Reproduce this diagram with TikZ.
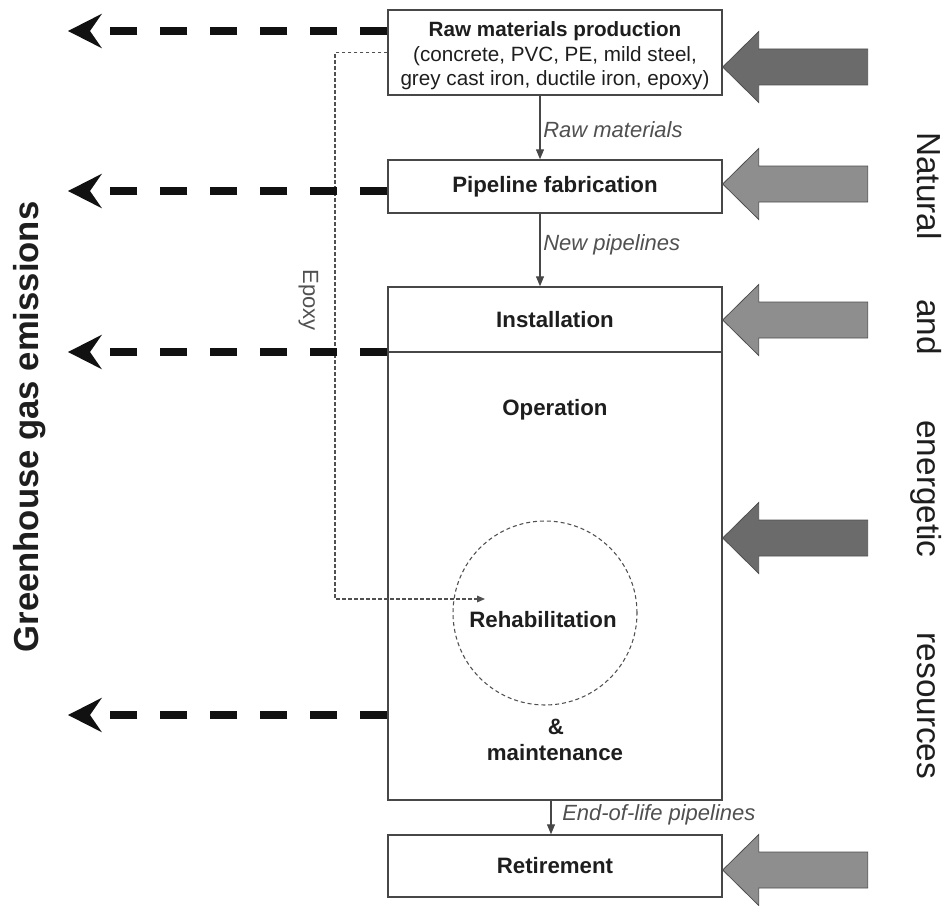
\documentclass[tikz,border=0pt]{standalone}
\usepackage{fontspec}
\setmainfont{Liberation Sans}
\usetikzlibrary{arrows.meta,calc}
\definecolor{boxline}{HTML}{474747}
\definecolor{txt}{HTML}{1E1E1E}
\definecolor{lbl}{HTML}{505050}
\definecolor{arrdark}{HTML}{6B6B6B}
\definecolor{arrlight}{HTML}{8E8E8E}
\definecolor{arredge}{HTML}{4F4F4F}
\definecolor{ghgcol}{HTML}{111111}
\newcommand{\myinarrow}[2]{%
  \filldraw[fill=#2, draw=arredge, line width=0.6pt, line join=miter]
    (#1) -- ++(36,-35.5) -- ++(0,17.5) -- ++(109,0) -- ++(0,36)
    -- ++(-109,0) -- ++(0,17.5) -- cycle;}
\begin{document}
\begin{tikzpicture}[x=0.75pt,y=-0.75pt,
  stagebox/.style={draw=boxline, line width=1.1pt, inner sep=0pt, text=txt,
    minimum width=250.5pt, font=\fontsize{16.7}{20}\selectfont\bfseries},
  lab/.style={font=\fontsize{16.7}{20}\selectfont\bfseries, text=txt, inner sep=0pt},
  flowlbl/.style={font=\fontsize{16.5}{20}\selectfont\itshape, text=lbl, anchor=west, inner sep=0pt},
  flow/.style={draw=boxline, line width=0.9pt, -{Triangle[length=7.5pt,width=6pt]}},
  ghg/.style={draw=ghgcol, line width=5.8pt, dash pattern=on 20.25pt off 17.25pt,
    -{Stealth[length=25.5pt,width=26pt,inset=9pt,line width'=0pt]}},
  epoxyline/.style={draw=lbl, line width=0.8pt, dash pattern=on 2.5pt off 2pt,
    -{Triangle[length=6pt,width=5pt]}},
  sidetext/.style={rotate=-90, anchor=base, inner sep=0pt, text=txt,
    font=\fontsize{25}{30}\selectfont}
]
\useasboundingbox (0,0) rectangle (943,906);

% stage boxes
\node[stagebox, minimum height=63.75pt] (raw) at (555,52.5) {};
\node[align=center, inner sep=0pt, text=txt, font=\fontsize{15.5}{18.4}\selectfont] (rawtxt) at (555,56)
  {\textbf{Raw materials production}\\(concrete, PVC, PE, mild steel,\\grey cast iron, ductile iron, epoxy)};
\node[stagebox, minimum height=39.75pt] (fab) at (555,186.5) {Pipeline fabrication};
\node[stagebox, minimum height=384.75pt] (big) at (555,543.5) {};
\node[stagebox, minimum height=46.5pt] (ret) at (555,866) {Retirement};

\draw[draw=boxline, line width=1.1pt] (big.west |- 0,352) -- (big.east |- 0,352);
\node[lab] (inst) at (555,320) {Installation};
\node[lab] (oper) at (555,410) {Operation};
\node[circle, draw=lbl, line width=0.8pt, dash pattern=on 3pt off 2.2pt, minimum size=138pt, inner sep=0pt] (rehabc) at (545,613) {};
\node[lab] (rehab) at (543,620) {Rehabilitation};
\node[lab] (amp) at (556,727) {\&};
\node[lab] (maint) at (555,753) {maintenance};

% flows
\draw[flow] ([xshift=-11.25pt]raw.south) -- ([xshift=-11.25pt]fab.north);
\node[flowlbl] (l1) at (543,130) {Raw materials};
\draw[flow] ([xshift=-11.25pt]fab.south) -- ([xshift=-11.25pt]big.north);
\node[flowlbl] (l2) at (543,245) {New pipelines};
\draw[flow] ([xshift=-3pt]big.south) -- ([xshift=-3pt]ret.north);
\node[flowlbl] (l3) at (562,815) {End-of-life pipelines};

% epoxy
\coordinate (ecorner) at (335,599);
\coordinate (eend) at (485,599);
\draw[epoxyline] (raw.west) -| (ecorner) -- (eend);
\node[rotate=-90, anchor=base, inner sep=0pt, text=lbl, font=\fontsize{16.5}{20}\selectfont] (epx) at (303,300) {Epoxy};

% GHG emission arrows
\coordinate (g1) at (68,31);
\coordinate (g2) at (68,191);
\coordinate (g3) at (68,352);
\coordinate (g4) at (68,715);
\draw[ghg] (raw.west |- g1) -- (g1);
\draw[ghg] (fab.west |- g2) -- (g2);
\draw[ghg] (big.west |- g3) -- (g3);
\draw[ghg] (big.west |- g4) -- (g4);
\node[rotate=90, anchor=base, inner sep=0pt, text=txt, font=\fontsize{26}{30}\selectfont\bfseries] (ghgt) at (38,427) {Greenhouse gas emissions};

% resource arrows
\coordinate (r1) at (raw.east |- 0,67);
\coordinate (r2) at (fab.east |- 0,184);
\coordinate (r3) at (big.east |- 0,320);
\coordinate (r4) at (big.east |- 0,538);
\coordinate (r5) at (ret.east |- 0,870);
\myinarrow{r1}{arrdark}
\myinarrow{r2}{arrlight}
\myinarrow{r3}{arrlight}
\myinarrow{r4}{arrdark}
\myinarrow{r5}{arrlight}

\node[sidetext] (w1) at (917,186) {Natural};
\node[sidetext] (w2) at (917,327) {and};
\node[sidetext] (w3) at (917,489) {energetic};
\node[sidetext] (w4) at (917,706) {resources};
\end{tikzpicture}
\end{document}
